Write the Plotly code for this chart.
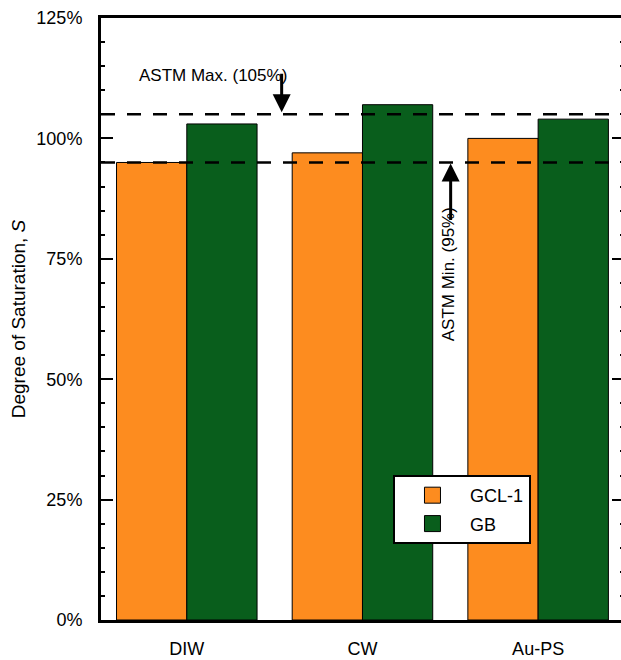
import plotly.graph_objects as go

# Degree of saturation for each permeant liquid
categories = ["DIW", "CW", "Au-PS"]
gcl1_saturation = [95, 97, 100]
gb_saturation = [103, 107, 104]

# ASTM acceptance limits (%)
astm_max = 105
astm_min = 95

series_names = ["GCL-1", "GB"]
orange = "#FD8C1F"
green = "#095E1C"
font_family = "Liberation Sans, Arial, Helvetica, sans-serif"

fig = go.Figure()

for name, vals, col in [(series_names[0], gcl1_saturation, orange),
                        (series_names[1], gb_saturation, green)]:
    fig.add_trace(go.Bar(
        x=categories, y=vals, name=name,
        marker=dict(color=col, line=dict(color="black", width=1)),
        showlegend=False,
    ))

# legend entries with larger square swatches
for name, col in [(series_names[0], orange), (series_names[1], green)]:
    fig.add_trace(go.Scatter(
        x=[None], y=[None], mode="markers", name=name, legendgroup=name,
        marker=dict(symbol="square", size=16, color=col,
                    line=dict(color="black", width=1)),
    ))

# right-hand tick marks
fig.add_trace(go.Scatter(x=[None], y=[None], yaxis="y2", showlegend=False,
                         hoverinfo="skip"))

# ASTM limit lines
for lim in (astm_max, astm_min):
    fig.add_shape(type="line", xref="paper", x0=0, x1=1, yref="y",
                  y0=lim, y1=lim, layer="above",
                  line=dict(color="black", width=2.5, dash="14px,12px"))

# arrows pointing at the limits
fig.add_annotation(x=0.54, y=astm_max, xref="x", yref="y", text="",
                   showarrow=True, arrowhead=2, arrowsize=1.2, arrowwidth=3,
                   arrowcolor="black", ax=0, ay=-42, standoff=2)
fig.add_annotation(x=1.502, y=astm_min, xref="x", yref="y", text="",
                   showarrow=True, arrowhead=2, arrowsize=1.2, arrowwidth=3,
                   arrowcolor="black", ax=0, ay=59, standoff=1)

fig.add_annotation(x=0.149, y=113.0, xref="x", yref="y",
                   text=f"ASTM Max. ({astm_max}%)", showarrow=False,
                   font=dict(size=17, color="black", family=font_family))
fig.add_annotation(x=1.49, y=71.7, xref="x", yref="y",
                   text=f"ASTM Min. ({astm_min}%)", showarrow=False,
                   textangle=-90,
                   font=dict(size=17, color="black", family=font_family))

tickvals = [0, 25, 50, 75, 100, 125]
ticktext = [f"{v}%" for v in tickvals]

fig.update_layout(
    width=621, height=660,
    margin=dict(l=101, r=0, t=18, b=40),
    paper_bgcolor="white", plot_bgcolor="white",
    font=dict(family=font_family, size=18, color="black"),
    barmode="group", bargap=0.2, bargroupgap=0,
    xaxis=dict(
        range=[-0.4884, 2.4717],
        showline=True, linewidth=3, linecolor="black", mirror=True,
        ticks="", showgrid=False, zeroline=False,
        tickfont=dict(size=18), ticklabelstandoff=10,
    ),
    yaxis=dict(
        range=[0, 125], tickvals=tickvals, ticktext=ticktext,
        showline=True, linewidth=3, linecolor="black",
        ticks="inside", ticklen=12, tickwidth=2, tickcolor="black",
        minor=dict(dtick=5, ticks="inside", ticklen=4, tickwidth=2,
                   tickcolor="black", showgrid=False),
        showgrid=False, zeroline=False, tickfont=dict(size=18),
        ticklabelstandoff=12,
        title=dict(text="Degree of Saturation, <i>S</i>",
                   font=dict(size=19), standoff=6),
    ),
    yaxis2=dict(
        range=[0, 125], overlaying="y", side="right", anchor="x",
        tickvals=tickvals, showticklabels=False, showline=False,
        ticks="inside", ticklen=9, tickwidth=2, tickcolor="black",
        minor=dict(dtick=5, ticks="inside", ticklen=1, tickwidth=2,
                   tickcolor="black", showgrid=False),
        showgrid=False, zeroline=False,
    ),
    legend=dict(
        x=0.5615, y=0.2409, xanchor="left", yanchor="top",
        bgcolor="white", bordercolor="black", borderwidth=2,
        font=dict(size=18), itemwidth=65, tracegroupgap=2,
    ),
)

fig.write_html("out.html")
